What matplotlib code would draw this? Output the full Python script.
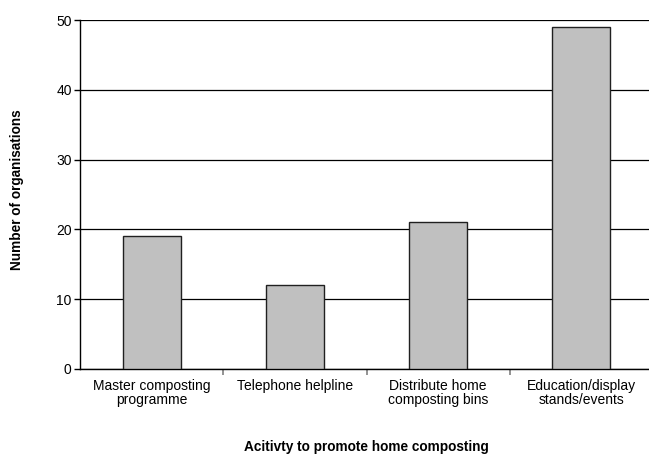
import matplotlib
matplotlib.use('Agg')
from matplotlib import pyplot as plt

plt.rcParams['font.family'] = ['Liberation Sans', 'DejaVu Sans']

activities = ['Master composting\nprogramme', 'Telephone helpline',
              'Distribute home\ncomposting bins', 'Education/display\nstands/events']
organisations = [19, 12, 21, 49]
y_ticks = [0, 10, 20, 30, 40, 50]

fig = plt.figure(figsize=(6.49, 4.55), dpi=100)
# axes run a little past the right edge, like the cropped original
ax = fig.add_axes([80 / 649, 86 / 455, 573 / 649, 349 / 455])

pos = list(range(len(activities)))
ax.bar(pos, organisations, width=0.405, color='#c0c0c0',
       edgecolor='#202020', linewidth=1, zorder=3)

ax.set_ylim(0, 50)
ax.set_xlim(-0.5, len(activities) - 0.5)
ax.set_yticks(y_ticks)
ax.set_yticklabels([str(t) for t in y_ticks], fontsize=10)
ax.yaxis.grid(True, color='black', linewidth=0.9)
ax.set_axisbelow(True)

# category labels centred, ticks on category boundaries
ax.set_xticks(pos)
ax.set_xticklabels(activities, fontsize=10, linespacing=1.05)
ax.tick_params(axis='x', length=0, pad=7)
ax.set_xticks([p + 0.5 for p in pos[:-1]], minor=True)
ax.tick_params(axis='x', which='minor', length=4, color='#808080', width=1.2)
ax.tick_params(axis='y', length=4, width=1, pad=2)

for s in ['top', 'right']:
    ax.spines[s].set_visible(False)
ax.spines['left'].set_linewidth(1)
ax.spines['bottom'].set_linewidth(1)

fig.text(17 / 649, 1 - 190 / 455, 'Number of organisations', rotation=90,
         fontsize=9.8, fontweight='bold', ha='center', va='center')
fig.text(366 / 649, 1 - 447 / 455, 'Acitivty to promote home composting',
         fontsize=9.8, fontweight='bold', ha='center', va='center')

plt.savefig('out.png', dpi=100)
